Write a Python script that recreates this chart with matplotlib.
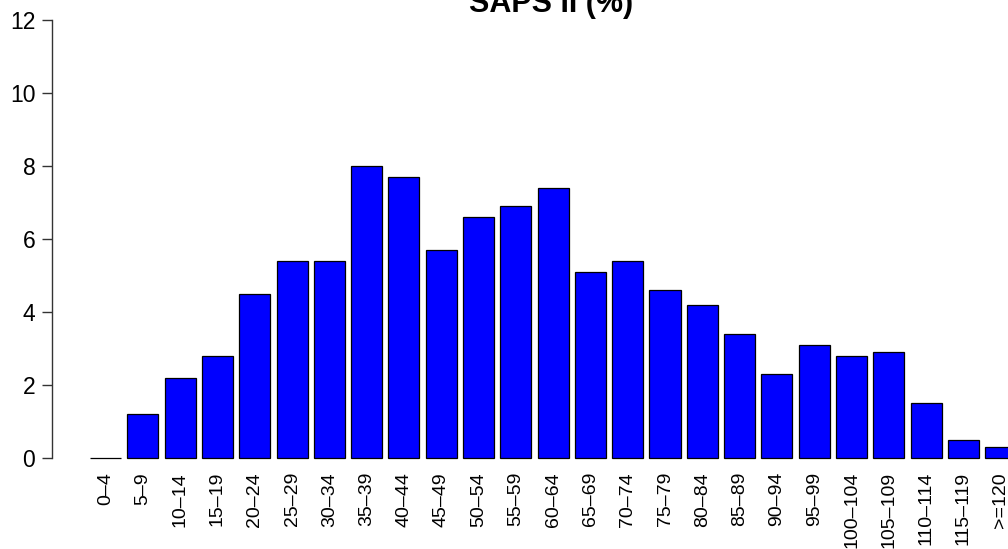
import matplotlib
matplotlib.use("Agg")
import matplotlib.pyplot as plt

categories = ["0\u20134", "5\u20139", "10\u201314", "15\u201319", "20\u201324", "25\u201329",
              "30\u201334", "35\u201339", "40\u201344", "45\u201349", "50\u201354", "55\u201359",
              "60\u201364", "65\u201369", "70\u201374", "75\u201379", "80\u201384", "85\u201389",
              "90\u201394", "95\u201399", "100\u2013104", "105\u2013109", "110\u2013114",
              "115\u2013119", ">=120"]
values = [0.0, 1.2, 2.2, 2.8, 4.5, 5.4, 5.4, 8.0, 7.7, 5.7, 6.6, 6.9, 7.4,
          5.1, 5.4, 4.6, 4.2, 3.4, 2.3, 3.1, 2.8, 2.9, 1.5, 0.5, 0.3]
yticks = [0, 2, 4, 6, 8, 10, 12]
title = "SAPS II (%)"

plt.rcParams['font.family'] = ['Liberation Sans', 'DejaVu Sans']

W, H = 1008, 549
fig = plt.figure(figsize=(W / 100, H / 100), dpi=100)
# axes: left at pixel 52, right at figure edge; y=0 at pixel 458, y=12 at pixel 20
ax = fig.add_axes([52 / W, (H - 458) / H, (W - 52) / W, (458 - 20) / H])

centers = [0.7 + 1.2 * i for i in range(len(values))]
ax.bar(centers, values, width=1.0, color="#0000FF", edgecolor="black",
       linewidth=0.9, clip_on=False)

# x mapping: pixel 90 -> 0.2, 31.1 px per unit
ppu = 37.3 / 1.2
ax.set_xlim(0.2 - (90 - 52) / ppu, 0.2 + (1008 - 90) / ppu)
ax.set_ylim(0, 12)

for s in ["top", "right", "bottom"]:
    ax.spines[s].set_visible(False)
ax.spines["left"].set_color("#333333")
ax.spines["left"].set_linewidth(1.0)

ax.set_yticks(yticks)
ax.set_yticklabels([str(t) for t in yticks], fontsize=16.5)
ax.tick_params(axis="y", length=7, width=1.0, color="#333333", pad=5)

ax.set_xticks(centers)
ax.set_xticklabels(categories, rotation=90, fontsize=14, va="top", ha="center")
ax.tick_params(axis="x", length=0, pad=10)

fig.text(551 / W, 1 - 12 / H, title, ha="center", va="baseline",
         fontsize=22, fontweight="bold")

fig.savefig("out.png", dpi=100)
